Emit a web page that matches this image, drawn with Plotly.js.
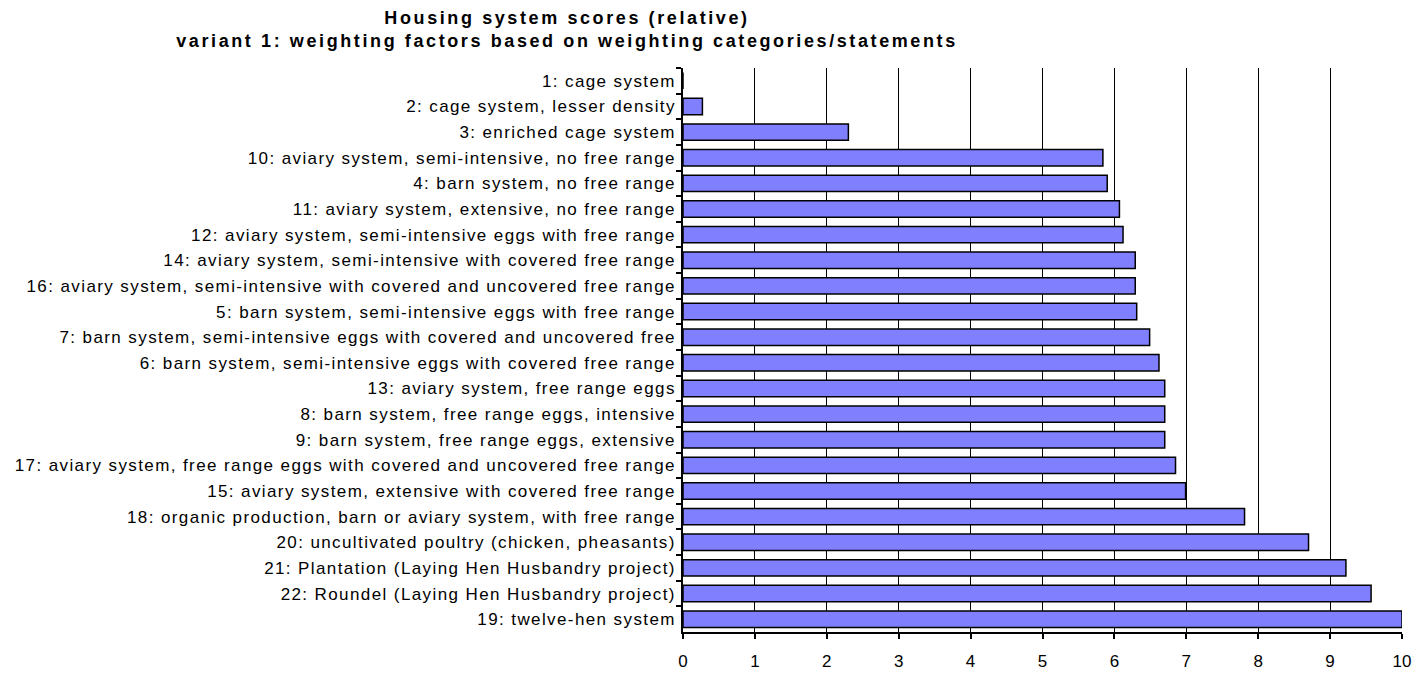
<!DOCTYPE html>
<html>
<head>
<meta charset="utf-8">
<script src="https://cdn.plot.ly/plotly-3.0.1.min.js"></script>
<style>
html,body{margin:0;padding:0;background:#fff;}
#chart{width:1426px;height:673px;}
#chart g.ytick text{letter-spacing:1.4px;}
#chart text.gtitle{letter-spacing:2.6px;}
</style>
</head>
<body>
<div id="chart"></div>
<script>
const categories = [
  "1: cage system",
  "2: cage system, lesser density",
  "3: enriched cage system",
  "10: aviary system, semi-intensive, no free range",
  "4: barn system, no free range",
  "11: aviary system, extensive, no free range",
  "12: aviary system, semi-intensive eggs with free range",
  "14: aviary system, semi-intensive with covered free range",
  "16: aviary system, semi-intensive with covered and uncovered free range",
  "5: barn system, semi-intensive eggs with free range",
  "7: barn system, semi-intensive eggs with covered and uncovered free",
  "6: barn system, semi-intensive eggs with covered free range",
  "13: aviary system, free range eggs",
  "8: barn system, free range eggs, intensive",
  "9: barn system, free range eggs, extensive",
  "17: aviary system, free range eggs with covered and uncovered free range",
  "15: aviary system, extensive with covered free range",
  "18: organic production, barn or aviary system, with free range",
  "20: uncultivated poultry (chicken, pheasants)",
  "21: Plantation (Laying Hen Husbandry project)",
  "22: Roundel (Laying Hen Husbandry project)",
  "19: twelve-hen system"
];
const scores = [0, 0.27, 2.3, 5.84, 5.9, 6.07, 6.12, 6.29, 6.29, 6.31, 6.49, 6.62, 6.7, 6.7, 6.7, 6.85, 6.99, 7.81, 8.7, 9.22, 9.57, 10];
const xTicks = [0, 1, 2, 3, 4, 5, 6, 7, 8, 9, 10];

const font = "Liberation Sans, Arial, sans-serif";
Plotly.newPlot("chart", [{
  type: "bar",
  orientation: "h",
  y: categories,
  x: scores,
  marker: {color: "#8080FF", line: {color: "#000000", width: 1.5}},
  hoverinfo: "x+y"
}], {
  width: 1426, height: 673,
  paper_bgcolor: "#ffffff", plot_bgcolor: "#ffffff",
  margin: {l: 683, r: 24, t: 68, b: 41, pad: 0},
  bargap: 0.36,
  showlegend: false,
  title: {
    text: "<b>Housing system scores (relative)</b><br><b>variant 1: weighting factors based on weighting categories/statements</b>",
    font: {family: font, size: 18, color: "#000"},
    x: 567 / 1426, xanchor: "center", xref: "container",
    y: 1 - 24 / 673, yanchor: "middle", yref: "container",
    automargin: false
  },
  xaxis: {
    range: [0, 10], fixedrange: true,
    tickvals: xTicks, ticktext: xTicks.map(String),
    showgrid: true, gridcolor: "#000000", gridwidth: 1,
    zeroline: false,
    showline: true, linecolor: "#000000", linewidth: 1.5,
    ticks: "outside", ticklen: 5, tickcolor: "#000", tickwidth: 1.5,
    tickfont: {family: font, size: 17, color: "#000"},
    ticklabelstandoff: 8
  },
  yaxis: {
    type: "category", autorange: "reversed", fixedrange: true,
    showgrid: false, zeroline: false,
    showline: true, linecolor: "#000000", linewidth: 1.5,
    ticks: "outside", ticklen: 5, tickcolor: "#000", tickwidth: 1.5,
    tickson: "boundaries",
    tickfont: {family: font, size: 17, color: "#000"},
    ticklabelstandoff: 2
  }
}, {displayModeBar: false});
</script>
</body>
</html>
